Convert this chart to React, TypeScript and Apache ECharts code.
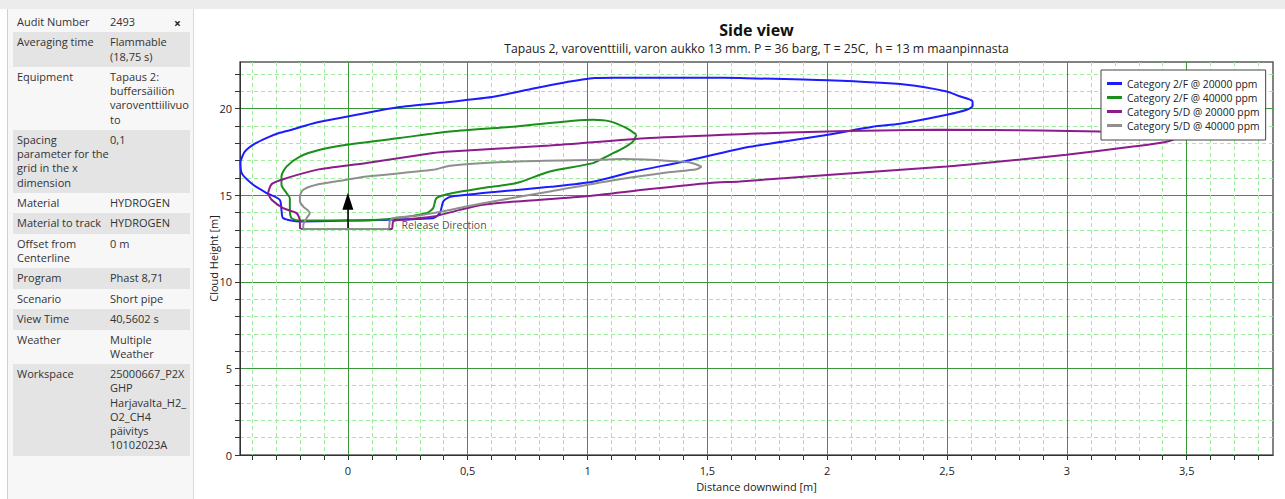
import React, { useEffect, useRef } from 'react';
import * as echarts from 'echarts';

const fontFamily = "'Open Sans', 'Noto Sans', sans-serif";

const titleText = 'Side view';
const subtitleText = 'Tapaus 2, varoventtiili, varon aukko 13 mm. P = 36 barg, T = 25C,  h = 13 m maanpinnasta';
const xAxisName = 'Distance downwind [m]';
const yAxisName = 'Cloud Height [m]';
const releaseText = 'Release Direction';

const infoLabels = [
  'Audit Number', 'Averaging time', 'Equipment', 'Spacing\nparameter for the\ngrid in the x\ndimension',
  'Material', 'Material to track', 'Offset from\nCenterline', 'Program', 'Scenario', 'View Time', 'Weather', 'Workspace',
];
const infoValues = [
  '2493', 'Flammable\n(18,75 s)', 'Tapaus 2:\nbuffersäiliön\nvaroventtiilivuo\nto', '0,1',
  'HYDROGEN', 'HYDROGEN', '0 m', 'Phast 8,71', 'Short pipe', '40,5602 s', 'Multiple\nWeather',
  '25000667_P2X\nGHP\nHarjavalta_H2_\nO2_CH4\npäivitys\n10102023A',
];

const seriesNames = [
  'Category 2/F @ 20000 ppm',
  'Category 2/F @ 40000 ppm',
  'Category 5/D @ 20000 ppm',
  'Category 5/D @ 40000 ppm',
];
const seriesColors = ['#1c1cff', '#1b8e1b', '#8c1c8c', '#8f8f8f'];

const cat2F20000: [number, number][] = [
  [-0.448, 16.95], [-0.43, 17.52], [-0.388, 17.98], [-0.338, 18.32], [-0.284, 18.61], [-0.234, 18.79],
  [-0.131, 19.21], [0, 19.55], [0.209, 20.08], [0.405, 20.36], [0.501, 20.52], [0.601, 20.68],
  [0.751, 21.1], [0.893, 21.49], [1.03, 21.77], [1.114, 21.79], [1.502, 21.79], [1.635, 21.77],
  [2.003, 21.64], [2.331, 21.39], [2.499, 21.0], [2.553, 20.72], [2.605, 20.45], [2.607, 20.17],
  [2.582, 19.94], [2.499, 19.65], [2.303, 19.13], [2.19, 18.96], [2.003, 18.5], [1.677, 17.8],
  [1.398, 16.94], [1.189, 16.36], [1.022, 15.78], [0.843, 15.49], [0.634, 15.22], [0.563, 15.13],
  [0.495, 15.03], [0.426, 14.91], [0.398, 14.64], [0.384, 13.97], [0.355, 13.68], [-0.005, 13.54],
  [-0.2, 13.49], [-0.27, 13.68], [-0.277, 14.16], [-0.284, 14.74], [-0.339, 15.13], [-0.395, 15.61],
  [-0.443, 16.28], [-0.448, 16.95],
];
const cat2F40000: [number, number][] = [
  [1.204, 18.5], [1.163, 18.88], [1.093, 19.27], [1.023, 19.36], [0.704, 18.98], [0.426, 18.69],
  [0.217, 18.31], [-0.005, 17.92], [-0.117, 17.63], [-0.2, 17.24], [-0.256, 16.66], [-0.277, 16.09],
  [-0.277, 15.61], [-0.256, 15.13], [-0.242, 14.84], [-0.242, 14.16], [-0.235, 13.68], [-0.2, 13.54],
  [-0.005, 13.54], [0.161, 13.62], [0.328, 13.97], [0.356, 14.26], [0.37, 14.84], [0.439, 15.13],
  [0.564, 15.42], [0.704, 15.71], [0.843, 16.38], [1.023, 16.86], [1.093, 17.34], [1.149, 17.73],
  [1.19, 18.11], [1.204, 18.5],
];
const cat5D20000: [number, number][] = [
  [-0.333, 15.13], [-0.317, 15.66], [-0.256, 15.99], [-0.131, 16.47], [0.078, 16.86], [0.356, 17.44],
  [0.426, 17.53], [0.843, 17.87], [1.26, 18.31], [1.677, 18.55], [2.003, 18.69], [2.47, 18.79],
  [2.887, 18.75], [3.137, 18.69], [3.388, 18.64], [3.49, 18.56], [3.465, 18.32], [3.401, 18.05],
  [3.276, 17.82], [2.998, 17.34], [2.72, 16.95], [2.498, 16.66], [2.001, 16.18], [1.635, 15.8],
  [1.51, 15.71], [1.26, 15.36], [0.982, 14.93], [0.704, 14.64], [0.564, 14.45], [0.467, 14.16],
  [0.356, 13.77], [0.217, 13.58], [0.189, 13.49], [0.182, 13.05], [-0.005, 13.05], [-0.159, 13.05],
  [-0.2, 13.1], [-0.2, 13.49], [-0.214, 13.97], [-0.27, 14.26], [-0.318, 14.74], [-0.333, 15.13],
];
const cat5D40000: [number, number][] = [
  [1.476, 16.66], [1.427, 16.9], [1.315, 17.01], [1.149, 17.09], [1.051, 17.05], [0.704, 16.95],
  [0.426, 16.71], [0.356, 16.47], [0.078, 16.09], [-0.005, 15.9], [-0.131, 15.61], [-0.186, 15.32],
  [-0.2, 14.93], [-0.2, 14.64], [-0.186, 14.35], [-0.159, 13.97], [-0.172, 13.68], [-0.186, 13.29],
  [-0.186, 13.05], [-0.005, 13.05], [0.168, 13.05], [0.175, 13.49], [0.189, 13.68], [0.287, 13.82],
  [0.356, 13.97], [0.495, 14.35], [0.634, 14.72], [0.843, 15.22], [1.121, 15.9], [1.33, 16.32],
  [1.455, 16.51], [1.476, 16.66],
];
const contours = [cat2F20000, cat2F40000, cat5D20000, cat5D40000];

const arrowStart: [number, number] = [0, 13.0];
const arrowEnd: [number, number] = [0, 14.65];
const releaseLabelPos: [number, number] = [0.222, 13.3];

const xMin = -0.45;
const xMax = 3.86;
const yMin = 0;
const yMax = 22.7;
const xMajorTicks = [0, 0.5, 1, 1.5, 2, 2.5, 3, 3.5];
const xMinorTicks = [
  -0.4, -0.3, -0.2, -0.1, 0, 0.1, 0.2, 0.3, 0.4, 0.5, 0.6, 0.7, 0.8, 0.9, 1, 1.1, 1.2, 1.3, 1.4, 1.5,
  1.6, 1.7, 1.8, 1.9, 2, 2.1, 2.2, 2.3, 2.4, 2.5, 2.6, 2.7, 2.8, 2.9, 3, 3.1, 3.2, 3.3, 3.4, 3.5, 3.6, 3.7, 3.8,
];
const yMajorTicks = [0, 5, 10, 15, 20];
const yMinorTicks = [0, 1, 2, 3, 4, 5, 6, 7, 8, 9, 10, 11, 12, 13, 14, 15, 16, 17, 18, 19, 20, 21, 22];

const majorGrid = '#3a9a3a';
const minorGrid = '#9cee9c';
const axisColor = '#333';

function buildOption(): any {
  const fmt = (v: number) => String(v).replace('.', ',');
  return {
    animation: false,
    textStyle: { fontFamily },
    grid: {
      left: 45, right: 12, top: 53, bottom: 44, show: true, borderColor: '#5a5a5a', borderWidth: 1.5,
      backgroundColor: 'transparent', containLabel: false, outerBoundsMode: 'none',
    },
    graphic: [
      { type: 'text', x: 561.5, y: 21, style: { text: titleText, fontFamily, fontSize: 16, fontWeight: 'bold', fill: '#111', textAlign: 'center', textVerticalAlign: 'middle' } },
      { type: 'text', x: 561.5, y: 39, style: { text: subtitleText, fontFamily, fontSize: 12.2, fill: '#222', textAlign: 'center', textVerticalAlign: 'middle' } },
    ],
    legend: {
      data: seriesNames,
      orient: 'vertical',
      left: 906,
      top: 61,
      backgroundColor: '#fff',
      borderColor: '#444',
      borderWidth: 1,
      padding: [7, 6, 8, 6],
      itemGap: 1,
      itemWidth: 15,
      itemHeight: 3,
      icon: 'rect',
      textStyle: { fontFamily, fontSize: 10.4, color: '#222', lineHeight: 13 },
      z: 10,
    },
    xAxis: [
      {
        type: 'value', min: xMin, max: xMax, position: 'bottom',
        name: xAxisName, nameLocation: 'middle', nameGap: 26,
        nameTextStyle: { fontFamily, fontSize: 11, color: '#222' },
        axisLine: { show: true, onZero: false, lineStyle: { color: axisColor, width: 1 } },
        axisTick: { show: true, customValues: xMinorTicks, length: 5, lineStyle: { color: axisColor } },
        axisLabel: { customValues: xMajorTicks, formatter: fmt, fontFamily, fontSize: 11, color: '#222', margin: 10 },
        splitLine: { show: true, lineStyle: { color: minorGrid, type: [4, 3], width: 1 } },
      },
      {
        type: 'value', min: xMin, max: xMax, position: 'bottom',
        axisLine: { show: false }, axisTick: { show: false, customValues: xMajorTicks },
        axisLabel: { show: false, customValues: xMajorTicks },
        splitLine: { show: true, lineStyle: { color: majorGrid, width: 1 } },
      },
    ],
    yAxis: [
      {
        type: 'value', min: yMin, max: yMax, interval: 1, position: 'left',
        name: yAxisName, nameLocation: 'middle', nameGap: 21, nameMoveOverlap: false,
        nameTextStyle: { fontFamily, fontSize: 11, color: '#222' },
        axisLine: { show: true, onZero: false, lineStyle: { color: axisColor, width: 1 } },
        axisTick: { show: true, customValues: yMinorTicks, length: 5, lineStyle: { color: axisColor } },
        axisLabel: { customValues: yMajorTicks, formatter: fmt, fontFamily, fontSize: 11, color: '#222', margin: 8 },
        splitLine: { show: true, lineStyle: { color: minorGrid, type: [4, 3], width: 1 } },
      },
      {
        type: 'value', min: yMin, max: yMax, interval: 5, position: 'left',
        axisLine: { show: false }, axisTick: { show: false, customValues: yMajorTicks },
        axisLabel: { show: false, customValues: yMajorTicks },
        splitLine: { show: true, lineStyle: { color: majorGrid, width: 1 } },
      },
    ],
    series: [
      ...contours.map((data, i) => ({
        name: seriesNames[i],
        type: 'line',
        data,
        xAxisIndex: 0,
        yAxisIndex: 0,
        showSymbol: false,
        symbol: 'none',
        smooth: 0.25,
        color: seriesColors[i],
        lineStyle: { color: seriesColors[i], width: 2 },
        z: 3 + i,
      })),
      {
        name: 'release',
        type: 'scatter',
        data: [releaseLabelPos],
        symbolSize: 1,
        itemStyle: { color: 'rgba(0,0,0,0)' },
        label: { show: true, formatter: releaseText, position: 'right', distance: 0, fontFamily, fontSize: 10.5, color: '#222' },
        silent: true,
        z: 8,
        markLine: {
          silent: true,
          symbol: ['none', 'triangle'],
          symbolSize: [11, 17],
          label: { show: false },
          lineStyle: { color: '#000', width: 1.5, type: 'solid' },
          data: [[{ coord: arrowStart }, { coord: arrowEnd }]],
        },
      },
    ],
  };
}

export default function App() {
  const ref = useRef<HTMLDivElement>(null);
  useEffect(() => {
    const chart = echarts.init(ref.current as HTMLDivElement, null, { renderer: 'svg' });
    chart.setOption(buildOption());
    return () => chart.dispose();
  }, []);

  const lineH = 14.2;
  return (
    <div style={{ position: 'absolute', left: 0, top: 0, width: 1285, height: 499, background: '#fff', overflow: 'hidden', fontFamily }}>
      <div style={{ position: 'absolute', left: 0, top: 0, width: 1285, height: 9, background: '#ececec' }} />
      <div style={{ position: 'absolute', left: 7, top: 9, width: 185, height: 490, background: '#f7f7f7', borderLeft: '1px solid #d0d0d0', borderRight: '1px solid #dadada' }}>
        <div style={{ position: 'absolute', left: 5, top: 3, width: 177 }}>
          {infoLabels.map((lab, i) => (
            <div key={i} style={{ display: 'flex', background: i % 2 === 1 ? '#e4e4e4' : 'transparent', padding: '3.1px 0', fontSize: 11, lineHeight: lineH + 'px', color: '#333' }}>
              <div style={{ width: 97, paddingLeft: 4, boxSizing: 'border-box', whiteSpace: 'pre' }}>{lab}</div>
              <div style={{ whiteSpace: 'pre' }}>{infoValues[i]}</div>
            </div>
          ))}
        </div>
        <div style={{ position: 'absolute', left: 166, top: 6, fontSize: 12, fontWeight: 'bold', color: '#222' }}>×</div>
      </div>
      <div ref={ref} style={{ position: 'absolute', left: 195, top: 9, width: 1090, height: 490, background: '#fff' }} />
    </div>
  );
}
